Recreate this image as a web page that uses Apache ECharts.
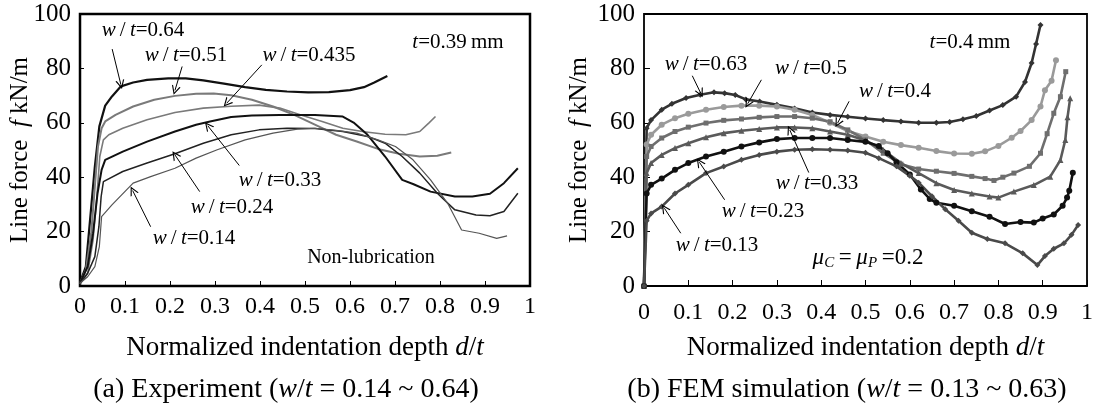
<!DOCTYPE html>
<html><head><meta charset="utf-8">
<script src="https://cdn.jsdelivr.net/npm/echarts@6/dist/echarts.min.js"></script>
<style>html,body{margin:0;padding:0;background:#fff}#c{width:1099px;height:407px}</style>
</head><body><div id="c"></div>
<script>
// ---------- Experiment (left panel): [d/t, f kN/m] ----------
const exp064 = [[0,1.2],[0.013,7.1],[0.023,25.5],[0.033,43.9],[0.043,58.7],[0.056,66.3],[0.071,69.7],[0.091,73.4],[0.118,74.8],[0.149,75.8],[0.196,76.3],[0.235,76.3],[0.274,75.6],[0.32,74.4],[0.367,73.1],[0.413,72.1],[0.46,71.5],[0.507,71.2],[0.553,71.3],[0.6,72.0],[0.631,73.1],[0.654,74.8],[0.683,77.2]];
const exp051 = [[0,1.0],[0.013,5.9],[0.025,19.4],[0.033,36.6],[0.04,51.3],[0.048,58.0],[0.056,60.5],[0.079,62.9],[0.118,66.0],[0.165,68.5],[0.211,69.9],[0.258,70.7],[0.297,70.8],[0.336,70.1],[0.382,68.5],[0.429,66.0],[0.476,62.9],[0.522,59.3],[0.569,55.6],[0.615,53.1],[0.662,50.4],[0.709,48.6],[0.755,47.6],[0.794,47.9],[0.825,49.1]];
const exp0435 = [[0,0.7],[0.017,4.7],[0.029,16.9],[0.037,31.7],[0.044,47.6],[0.052,53.7],[0.064,55.6],[0.095,58.0],[0.149,61.1],[0.211,63.8],[0.274,65.4],[0.336,66.1],[0.398,66.5],[0.444,65.4],[0.491,62.9],[0.538,60.5],[0.584,58.0],[0.631,56.7],[0.678,55.8],[0.724,55.6],[0.755,56.8],[0.775,59.9],[0.79,62.3]];
const exp033 = [[0,1],[0.017,7.1],[0.029,19.4],[0.039,34.1],[0.048,42.7],[0.056,46.4],[0.095,49.4],[0.149,53.1],[0.211,56.8],[0.258,59.3],[0.289,60.5],[0.336,62.1],[0.382,62.7],[0.444,62.9],[0.522,62.9],[0.584,62.3],[0.608,60.1],[0.639,55.6],[0.678,47.6],[0.716,39.0],[0.74,37.5],[0.779,34.7],[0.833,32.9],[0.872,32.9],[0.911,33.9],[0.942,37.8],[0.973,43.3]];
const exp024 = [[0,1],[0.017,4.7],[0.033,10.8],[0.042,21.8],[0.047,32.9],[0.052,38.4],[0.095,42.1],[0.149,45.2],[0.211,48.6],[0.274,52.5],[0.336,55.6],[0.398,57.4],[0.46,58.0],[0.522,57.9],[0.584,56.8],[0.639,55.0],[0.678,52.5],[0.716,47.6],[0.755,41.5],[0.794,34.1],[0.833,28.0],[0.88,26.1],[0.911,25.8],[0.942,27.4],[0.973,34.1]];
const exp014 = [[0,1],[0.017,3.4],[0.033,7.1],[0.043,14.5],[0.048,25.5],[0.071,29.8],[0.118,37.8],[0.157,40.2],[0.211,43.3],[0.258,47.0],[0.305,50.1],[0.367,53.7],[0.429,56.2],[0.483,57.7],[0.522,58.0],[0.569,57.2],[0.615,56.2],[0.662,53.7],[0.701,51.3],[0.74,46.4],[0.779,39.0],[0.817,30.4],[0.848,20.6],[0.887,19.4],[0.926,17.5],[0.949,18.4]];

// ---------- FEM simulation (right panel): [d/t, f kN/m] ----------
const fem063 = [[0,0],[0.006,58],[0.016,61],[0.04,64.8],[0.063,67],[0.095,69.1],[0.127,70.3],[0.158,71.2],[0.182,70.9],[0.206,70.2],[0.23,68.6],[0.261,67.8],[0.3,66.6],[0.34,65.3],[0.38,63.8],[0.42,62.9],[0.46,62.2],[0.5,61.6],[0.54,61],[0.58,60.5],[0.62,60],[0.66,60],[0.69,60.3],[0.72,61.3],[0.75,62.5],[0.78,64.5],[0.81,66.5],[0.84,69.6],[0.86,75],[0.875,82],[0.885,89],[0.895,96]];
const fem050 = [[0,0],[0.006,52],[0.016,55.6],[0.04,59.3],[0.07,61.7],[0.1,63.3],[0.14,64.8],[0.18,65.8],[0.22,66.3],[0.26,66.3],[0.3,66],[0.34,64.8],[0.38,62.9],[0.42,60],[0.46,57],[0.5,55],[0.54,53],[0.58,51.8],[0.62,50.8],[0.66,49.6],[0.7,48.7],[0.74,48.6],[0.77,49.5],[0.8,51.5],[0.83,54.5],[0.85,57],[0.875,61],[0.895,66],[0.905,72],[0.92,75.5],[0.93,83]];
const fem040 = [[0,0],[0.006,47.6],[0.016,51.3],[0.04,54.4],[0.07,56.8],[0.1,58.4],[0.14,59.9],[0.18,60.9],[0.22,61.4],[0.26,62],[0.3,62.3],[0.34,62.3],[0.38,61.7],[0.42,60.4],[0.46,57.4],[0.5,53.7],[0.54,48.8],[0.58,44.8],[0.62,43],[0.66,42.2],[0.7,41.4],[0.74,40.3],[0.77,39.5],[0.79,38.8],[0.81,40],[0.835,41.5],[0.87,44],[0.895,48.8],[0.91,56],[0.925,63.5],[0.94,69.6],[0.952,78.8]];
const fem033 = [[0,0],[0.006,41.5],[0.016,45.2],[0.04,48.2],[0.07,50.7],[0.1,52.5],[0.14,54.7],[0.18,56.2],[0.22,57.1],[0.26,57.7],[0.3,58.3],[0.34,58.3],[0.38,58],[0.42,56.8],[0.46,55.6],[0.5,53.5],[0.54,50],[0.58,45.2],[0.62,41.5],[0.66,37.8],[0.7,35.3],[0.74,34],[0.78,32.9],[0.8,32.5],[0.835,34.7],[0.88,37.1],[0.917,40.2],[0.94,46.3],[0.951,53.7],[0.956,62],[0.962,69]];
const fem023 = [[0,0],[0.006,34],[0.016,37.2],[0.04,39.5],[0.07,42.7],[0.1,45.2],[0.14,47.6],[0.18,49.4],[0.22,51.3],[0.26,52.8],[0.3,54],[0.34,54.4],[0.38,54.4],[0.42,54.4],[0.46,53.7],[0.5,53],[0.53,51.5],[0.55,48.8],[0.57,45.5],[0.6,41],[0.625,35.5],[0.645,32],[0.66,30.6],[0.7,29.5],[0.74,27.5],[0.78,25.5],[0.815,22.8],[0.85,23.5],[0.88,23.3],[0.9,24.8],[0.925,26.3],[0.945,29.5],[0.955,32.5],[0.96,35],[0.968,41.6]];
const fem013 = [[0,0],[0.006,24],[0.016,26.7],[0.04,29.2],[0.07,34],[0.1,37.2],[0.14,41.5],[0.18,43.9],[0.22,46.4],[0.26,48.2],[0.3,49.4],[0.34,50.1],[0.38,50.3],[0.42,50.1],[0.46,49.8],[0.5,49],[0.53,47],[0.57,44],[0.6,40.5],[0.62,38],[0.65,33],[0.68,28.2],[0.71,24],[0.74,19.6],[0.775,17.3],[0.815,15.7],[0.855,12],[0.888,7.7],[0.905,11],[0.925,13.7],[0.948,15.7],[0.965,18.8],[0.98,22.4]];

// ---------- axes ----------
const xMin = 0, xMax = 1, xStep = 0.1;
const yMin = 0, yMax = 100, yStep = 20;

// ---------- annotation arrows [from, to] in data coords ----------
const expArrows = [[[0.0715,87.1],[0.0909,74.0]],[[0.227,80.7],[0.211,71.9]],[[0.404,81.3],[0.326,67.2]],[[0.354,44.3],[0.284,58.9]],[[0.266,34.7],[0.211,48.2]],[[0.157,21.8],[0.117,35.1]]];
const femArrows = [[[0.109,77.3],[0.128,70.9]],[[0.265,75.8],[0.234,67.0]],[[0.463,67.9],[0.437,59.9]],[[0.372,41.7],[0.329,57.4]],[[0.182,31.7],[0.125,45.5]],[[0.083,19.4],[0.046,28.6]]];
const expLabels = ['0.64','0.51','0.435','0.33','0.24','0.14'];
const femLabels = ['0.63','0.5','0.4','0.33','0.23','0.13'];

const SERIF = '"Liberation Serif","Times New Roman",serif';
const chart = echarts.init(document.getElementById('c'), null, {renderer:'canvas'});

const arrowPath = 'path://M5,0 L10,11 L8.6,11 L5,3 L1.4,11 L0,11 Z';
function arrowMark(list){
  return {
    silent:true, animation:false,
    symbol:['none', arrowPath], symbolSize:9,
    label:{show:false},
    lineStyle:{color:'#000', width:1, type:'solid'},
    itemStyle:{color:'#000'},
    emphasis:{disabled:true},
    data: list.map(a=>[{coord:a[0]},{coord:a[1]}])
  };
}
const richBase = {
  i:{fontFamily:SERIF, fontStyle:'italic', fontSize:21, color:'#000'},
  n:{fontFamily:SERIF, fontSize:21, color:'#000'},
  s:{fontFamily:SERIF, fontStyle:'italic', fontSize:15, color:'#000', padding:[10,0,0,0]}
};
function wt(v){ return '{i|w}{n|\u2009/\u2009}{i|t}{n|=' + v + '}'; }
function txt(x,y,text,size,rot){
  const rich = JSON.parse(JSON.stringify(richBase));
  if(size){ rich.i.fontSize=size; rich.n.fontSize=size; }
  const el = {type:'text', x:x, y:y, silent:true,
    style:{text:text, rich:rich, align:'center', verticalAlign:'middle', textAlign:'center', textVerticalAlign:'middle', fill:'#000', font: (size||21)+'px '+SERIF}};
  if(rot) el.rotation = rot;
  return el;
}
const expPos = [[143,30],[186,55],[309,55],[280,180],[232,207],[194,238]];
const femPos = [[706,64],[811,68],[895,91],[817,183],[763,211],[717,245]];
const graphics = [];
expLabels.forEach((l,i)=>graphics.push(txt(expPos[i][0],expPos[i][1],wt(l))));
femLabels.forEach((l,i)=>graphics.push(txt(femPos[i][0],femPos[i][1],wt(l))));
graphics.push(txt(458,42,'{i|t}{n|=0.39\u2009mm}'));
graphics.push(txt(970,42,'{i|t}{n|=0.4\u2009mm}'));
graphics.push(txt(371,258,'{n|Non-lubrication}',20));
graphics.push(txt(868,258,'{i|μ}{s|C}{n|\u2009=\u2009}{i|μ}{s|P}{n|\u2009=0.2}',23));
graphics.push(txt(20,150,'{n|Line force\u2002}{i|f}{n| kN/m}',25,Math.PI/2));
graphics.push(txt(579,150,'{n|Line force\u2002}{i|f}{n| kN/m}',25,Math.PI/2));
graphics.push(txt(286,390,'{n|(a) Experiment (}{i|w}{n|/}{i|t}{n| = 0.14 ~ 0.64)}',28));
graphics.push(txt(847,390,'{n|(b) FEM simulation (}{i|w}{n|/}{i|t}{n| = 0.13 ~ 0.63)}',28));

function xAxis(gi, margin, tickLen){
  return {type:'value', gridIndex:gi, min:xMin, max:xMax, interval:xStep,
    name:'Normalized indentation depth {i|d}/{i|t}', nameLocation:'middle', nameGap:48,
    nameTextStyle:{fontFamily:SERIF, fontSize:27, color:'#000',
      rich:{i:{fontFamily:SERIF, fontStyle:'italic', fontSize:27, color:'#000'}}},
    axisLine:{show:false}, splitLine:{show:false},
    axisTick:{show:true, inside:true, length:tickLen, lineStyle:{color:'#000', width:1}},
    axisLabel:{fontFamily:SERIF, fontSize:24, color:'#000', margin:margin,
      formatter:v=> (v===0?'0':(Math.abs(v-1)<1e-9?'1':v.toFixed(1)))}
  };
}
function yAxis(gi, margin, tickLen){
  return {type:'value', gridIndex:gi, min:yMin, max:yMax, interval:yStep,
    axisLine:{show:false}, splitLine:{show:false},
    axisTick:{show:true, inside:true, length:tickLen, lineStyle:{color:'#000', width:1}},
    axisLabel:{fontFamily:SERIF, fontSize:25, color:'#000', margin:margin}
  };
}
function expSeries(data,color,width,mark){
  const s = {type:'line', xAxisIndex:0, yAxisIndex:0, data:data, showSymbol:false, symbol:'none',
    lineStyle:{color:color, width:width}, itemStyle:{color:color}, animation:false, silent:true, z:3};
  if(mark) s.markLine = mark;
  return s;
}
function femSeries(data,color,symbol,size,mark){
  const s = {type:'line', xAxisIndex:1, yAxisIndex:1, data:data, showSymbol:true, symbol:symbol, symbolSize:size,
    lineStyle:{color:color, width:2.6}, itemStyle:{color:color}, animation:false, silent:true, z:3};
  if(mark) s.markLine = mark;
  return s;
}

chart.setOption({
  backgroundColor:'#fff',
  animation:false,
  grid:[
    {left:80, top:14, width:450, height:272, show:true, borderColor:'#000', borderWidth:2.5, backgroundColor:'transparent'},
    {left:644, top:14, width:443, height:272, show:true, borderColor:'#000', borderWidth:1.8, backgroundColor:'transparent'}
  ],
  xAxis:[xAxis(0,9,5), xAxis(1,15,6)],
  yAxis:[yAxis(0,9,4), yAxis(1,9,6)],
  series:[
    expSeries(exp064,'#111',2.2, arrowMark(expArrows)),
    expSeries(exp051,'#7a7a7a',2),
    expSeries(exp0435,'#7a7a7a',1.6),
    expSeries(exp033,'#111',2),
    expSeries(exp024,'#222',1.5),
    expSeries(exp014,'#555',1.2),
    femSeries(fem063,'#333','diamond',6, arrowMark(femArrows)),
    femSeries(fem050,'#9a9a9a','circle',6),
    femSeries(fem040,'#6e6e6e','rect',5),
    femSeries(fem033,'#5a5a5a','triangle',6),
    femSeries(fem023,'#111','circle',6),
    femSeries(fem013,'#4a4a4a','diamond',6)
  ],
  graphic:graphics
});
</script></body></html>
